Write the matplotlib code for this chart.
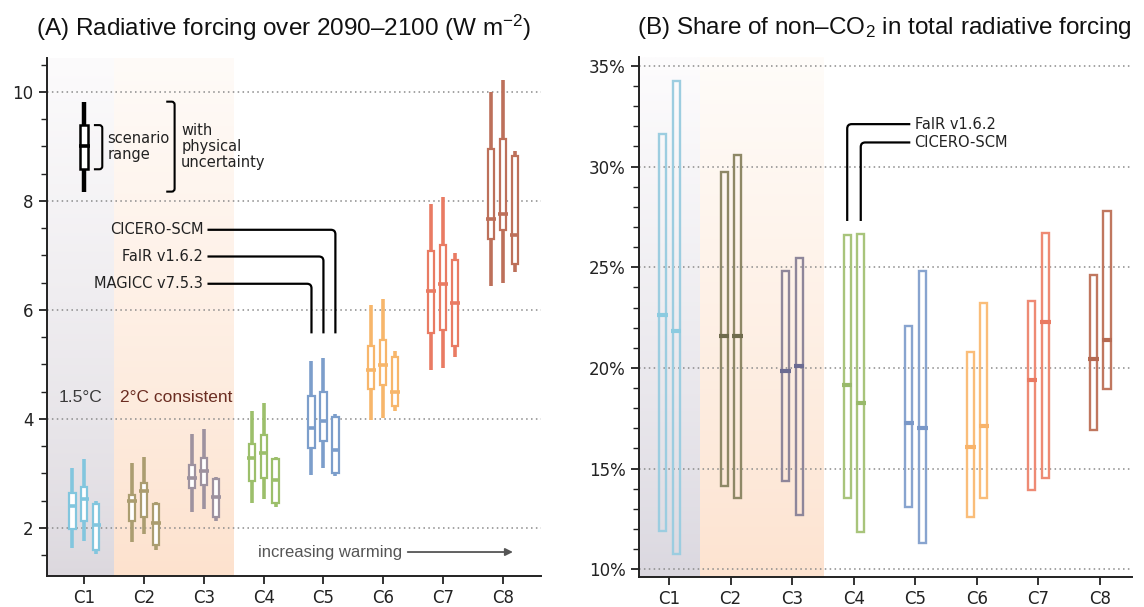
import numpy as np
import matplotlib
matplotlib.use("Agg")
import matplotlib.pyplot as plt
import matplotlib.colors as mcolors
from matplotlib.patches import Rectangle
from matplotlib.path import Path
from matplotlib.patches import PathPatch
from matplotlib.ticker import MultipleLocator, FuncFormatter

# ---------------- data ----------------
categories = ['C1', 'C2', 'C3', 'C4', 'C5', 'C6', 'C7', 'C8']
models_a = ['MAGICC v7.5.3', 'FaIR v1.6.2', 'CICERO-SCM']

# Panel A: radiative forcing 2090-2100 (W m-2)
# physical-uncertainty low/high, scenario-range low/high, median
magicc_wlo = [1.63, 1.75, 2.29, 2.46, 2.97, 3.98, 4.90, 6.44]
magicc_blo = [1.98, 2.12, 2.73, 2.87, 3.46, 4.55, 5.58, 7.30]
magicc_med = [2.40, 2.50, 2.92, 3.28, 3.83, 4.89, 6.34, 7.66]
magicc_bhi = [2.64, 2.60, 3.16, 3.55, 4.42, 5.33, 7.08, 8.95]
magicc_whi = [3.11, 3.19, 3.72, 4.15, 5.06, 6.09, 7.94, 9.99]

fair_wlo = [1.77, 1.89, 2.35, 2.53, 3.10, 4.01, 4.94, 6.50]
fair_blo = [2.12, 2.21, 2.79, 2.92, 3.60, 4.62, 5.63, 7.46]
fair_med = [2.53, 2.67, 3.05, 3.38, 3.97, 4.99, 6.47, 7.76]
fair_bhi = [2.76, 2.82, 3.28, 3.71, 4.50, 5.45, 7.20, 9.14]
fair_whi = [3.26, 3.30, 3.81, 4.30, 5.12, 6.20, 8.08, 10.22]

cicero_wlo = [1.53, 1.60, 2.13, 2.38, 2.95, 4.15, 5.13, 6.70]
cicero_blo = [1.60, 1.69, 2.21, 2.45, 3.00, 4.24, 5.34, 6.84]
cicero_med = [2.06, 2.10, 2.57, 2.88, 3.44, 4.50, 6.12, 7.38]
cicero_bhi = [2.44, 2.44, 2.89, 3.27, 4.03, 5.13, 6.91, 8.83]
cicero_whi = [2.50, 2.48, 2.94, 3.31, 4.10, 5.24, 7.04, 8.92]

# legend example element
legend_vals = [8.17, 8.58, 9.00, 9.39, 9.82]  # wlo, blo, med, bhi, whi

# Panel B: share of non-CO2 in total forcing (%)
models_b = ['FaIR v1.6.2', 'CICERO-SCM']
share_fair_lo = [11.89, 14.12, 14.37, 13.55, 13.07, 12.61, 13.93, 16.91]
share_fair_med = [22.64, 21.57, 19.83, 19.14, 17.27, 16.08, 19.42, 20.43]
share_fair_hi = [31.64, 29.75, 24.80, 26.58, 22.08, 20.81, 23.31, 24.64]
share_cicero_lo = [10.74, 13.52, 12.70, 11.87, 11.29, 13.52, 14.55, 18.93]
share_cicero_med = [21.83, 21.57, 20.12, 18.26, 17.02, 17.14, 22.30, 21.40]
share_cicero_hi = [34.23, 30.58, 25.47, 26.63, 24.81, 23.22, 26.69, 27.79]

# ---------------- styles ----------------
colors_a = ['#82c6de', '#ab9d70', '#9e929f', '#9cbf6b', '#7c9ecb',
            '#f7b66b', '#e97b63', '#bd705a']
colors_b = ['#9ccde0', '#8e8866', '#8e869a', '#a8c47b', '#88a4cf',
            '#fabd79', '#ee8a74', '#c0775f']
med_b = ['#8ccbe0', '#6f6b4c', '#6b6b92', '#98b96a', '#7a98c8',
         '#f8b36a', '#e97a62', '#b56a52']

plt.rcParams['font.family'] = ['DejaVu Sans']
plt.rcParams['mathtext.fontset'] = 'custom'
plt.rcParams['mathtext.rm'] = 'Liberation Sans'
plt.rcParams['mathtext.it'] = 'Liberation Sans:italic'

W, H = 1144, 607
fig = plt.figure(figsize=(W / 100, H / 100), dpi=100)

def px_axes(x0, x1, ytop, ybot):
    return fig.add_axes([x0 / W, 1 - ybot / H, (x1 - x0) / W, (ybot - ytop) / H])

axA = px_axes(46.7, 540.7, 57.5, 576.0)
axB = px_axes(639.0, 1131.7, 57.3, 576.7)

xs = np.arange(1, len(categories) + 1)

def style_axes(ax):
    for s in ['top', 'right']:
        ax.spines[s].set_visible(False)
    for s in ['left', 'bottom']:
        ax.spines[s].set_linewidth(1.4)
        ax.spines[s].set_color('#222222')
    ax.tick_params(axis='both', which='major', length=6, width=1.3,
                   labelsize=12, colors='#222222')
    ax.tick_params(axis='y', which='minor', length=4, width=1.0, colors='#222222')
    ax.set_xticks(xs)
    ax.set_xticklabels(categories)
    ax.set_axisbelow(True)
    ax.yaxis.grid(True, which='major', linestyle=(0, (1, 2.2)),
                  color='#8a8a8a', linewidth=1.1)

def gradient_band(ax, x0, x1, c_bot, c_top, power=1.0):
    y0, y1 = ax.get_ylim()
    n = 256
    t = (np.linspace(0, 1, n) ** power)[:, None, None]
    cb = np.array(mcolors.to_rgb(c_bot))[None, None, :]
    ct = np.array(mcolors.to_rgb(c_top))[None, None, :]
    img = cb * (1 - t) + ct * t
    ax.imshow(img, origin='lower', extent=(x0, x1, y0, y1), aspect='auto',
              zorder=0, interpolation='bilinear')

def rounded_path(ax, pts, r_px=4.5, **kw):
    # polyline with small rounded corners (radius given in pixels)
    p0 = ax.transData.transform((0, 0))
    px_x = ax.transData.transform((1, 0))[0] - p0[0]
    px_y = ax.transData.transform((0, 1))[1] - p0[1]
    verts = [pts[0]]
    codes = [Path.MOVETO]
    for i in range(1, len(pts) - 1):
        a, b, c = np.array(pts[i - 1]), np.array(pts[i]), np.array(pts[i + 1])
        d1 = (b - a) * np.array([px_x, px_y]); d1 /= np.linalg.norm(d1)
        d2 = (c - b) * np.array([px_x, px_y]); d2 /= np.linalg.norm(d2)
        q1 = b - d1 * r_px / np.array([px_x, px_y])
        q2 = b + d2 * r_px / np.array([px_x, px_y])
        verts += [tuple(q1), tuple(b), tuple(q2)]
        codes += [Path.LINETO, Path.CURVE3, Path.CURVE3]
    verts.append(pts[-1]); codes.append(Path.LINETO)
    ax.add_patch(PathPatch(Path(verts, codes), fill=False, **kw))

# ---------------- Panel A ----------------
style_axes(axA)
axA.set_xlim(0.37, 8.635)
axA.set_ylim(1.12, 10.63)
axA.set_yticks([2, 4, 6, 8, 10])
axA.yaxis.set_minor_locator(MultipleLocator(0.5))

gradient_band(axA, 0.37, 1.5, '#dcd8de', '#fcfbfc', 0.8)
gradient_band(axA, 1.5, 3.5, '#fde2ce', '#fffbf8', 0.9)
axA.set_xlim(0.37, 8.635)
axA.set_ylim(1.12, 10.63)

model_sets = [
    (magicc_wlo, magicc_blo, magicc_med, magicc_bhi, magicc_whi),
    (fair_wlo, fair_blo, fair_med, fair_bhi, fair_whi),
    (cicero_wlo, cicero_blo, cicero_med, cicero_bhi, cicero_whi),
]
offsets_a = [-0.2, 0.0, 0.2]
bw = 0.105
mw = 0.16

def draw_element(ax, x, wlo, blo, med, bhi, whi, col, lw_w=2.6, bwid=bw, mwid=mw, lw_b=1.6):
    ax.vlines(x, wlo, whi, color=col, lw=lw_w, zorder=2)
    ax.add_patch(Rectangle((x - bwid / 2, blo), bwid, bhi - blo, facecolor='white',
                           edgecolor=col, lw=lw_b, zorder=3))
    ax.hlines(med, x - mwid / 2, x + mwid / 2, color=col, lw=2.6, zorder=4)

for j, (wlo, blo, med, bhi, whi) in enumerate(model_sets):
    for i in range(len(categories)):
        draw_element(axA, xs[i] + offsets_a[j], wlo[i], blo[i], med[i], bhi[i], whi[i],
                     colors_a[i])

# legend element
lv = legend_vals
draw_element(axA, 1.0, lv[0], lv[1], lv[2], lv[3], lv[4], 'black', lw_w=3.2,
             bwid=0.13, mwid=0.19, lw_b=1.8)
rounded_path(axA, [(1.16, lv[3]), (1.30, lv[3]), (1.30, lv[1]), (1.16, lv[1])],
             r_px=3, color='black', lw=1.5, zorder=5)
rounded_path(axA, [(2.37, lv[4]), (2.51, lv[4]), (2.51, lv[0]), (2.37, lv[0])],
             r_px=3, color='black', lw=1.5, zorder=5)
axA.text(1.39, lv[2], 'scenario\nrange', fontsize=10.5, va='center', ha='left',
         color='#222222', linespacing=1.1)
axA.text(2.62, lv[2], 'with\nphysical\nuncertainty', fontsize=10.5, va='center',
         ha='left', color='#222222', linespacing=1.1)

# model labels with connectors
label_y = [6.48, 6.98, 7.47]
for j, name in enumerate(models_a):
    xm = xs[4] + offsets_a[j]
    axA.text(2.99, label_y[j], name, fontsize=10.5, ha='right', va='center', color='#222222')
    rounded_path(axA, [(3.06, label_y[j]), (xm, label_y[j]), (xm, 5.57)],
                 r_px=4.5, color='black', lw=1.6, zorder=5)

axA.text(0.93, 4.40, '1.5°C', fontsize=12.5, ha='center', va='center',
         color='#3a3a3a', family='Liberation Sans')
axA.text(1.60, 4.40, '2°C consistent', fontsize=12.5, ha='left', va='center',
         color='#6b2d22', family='Liberation Sans')
axA.text(3.90, 1.56, 'increasing warming', fontsize=12, ha='left', va='center',
         color='#555555', family='Liberation Sans')
axA.annotate('', xy=(8.17, 1.56), xytext=(6.41, 1.56),
             arrowprops=dict(arrowstyle='-|>', color='#555555', lw=1.3,
                             mutation_scale=11, shrinkA=0, shrinkB=0))

# ---------------- Panel B ----------------
style_axes(axB)
axB.set_xlim(0.513, 8.516)
axB.set_ylim(9.63, 35.43)
axB.set_yticks([10, 15, 20, 25, 30, 35])
axB.yaxis.set_minor_locator(MultipleLocator(1))
axB.yaxis.set_major_formatter(FuncFormatter(lambda v, p: f'{v:.0f}%'))

gradient_band(axB, 0.513, 1.5, '#dad7df', '#fdfcfd', 0.8)
gradient_band(axB, 1.5, 3.5, '#fde3d0', '#fffcf9', 0.9)
axB.set_xlim(0.513, 8.516)
axB.set_ylim(9.63, 35.43)

share_sets = [
    (share_fair_lo, share_fair_med, share_fair_hi),
    (share_cicero_lo, share_cicero_med, share_cicero_hi),
]
offsets_b = [-0.105, 0.115]
bwb = 0.115
mwb = 0.17
for j, (lo, med, hi) in enumerate(share_sets):
    for i in range(len(categories)):
        x = xs[i] + offsets_b[j]
        axB.add_patch(Rectangle((x - bwb / 2, lo[i]), bwb, hi[i] - lo[i], facecolor='none',
                                edgecolor=colors_b[i], lw=1.7, zorder=3))
        axB.hlines(med[i], x - mwb / 2, x + mwb / 2, color=med_b[i], lw=3.0, zorder=4)

label_yb = [32.11, 31.2]
for j, name in enumerate(models_b):
    xm = xs[3] + offsets_b[j]
    axB.text(4.99, label_yb[j], name, fontsize=10.5, ha='left', va='center', color='#222222')
    rounded_path(axB, [(4.92, label_yb[j]), (xm, label_yb[j]), (xm, 27.3)],
                 r_px=4.5, color='black', lw=1.6, zorder=5)

# ---------------- titles ----------------
fig.text(284 / W, 1 - 28 / H, r'(A) Radiative forcing over 2090–2100 (W m$^{-2}$)',
         fontsize=17.5, ha='center', va='center', family='Liberation Sans', color='#111111')
fig.text(884 / W, 1 - 28 / H, r'(B) Share of non–CO$_2$ in total radiative forcing',
         fontsize=17.5, ha='center', va='center', family='Liberation Sans', color='#111111')

fig.savefig('out.png', dpi=100)
